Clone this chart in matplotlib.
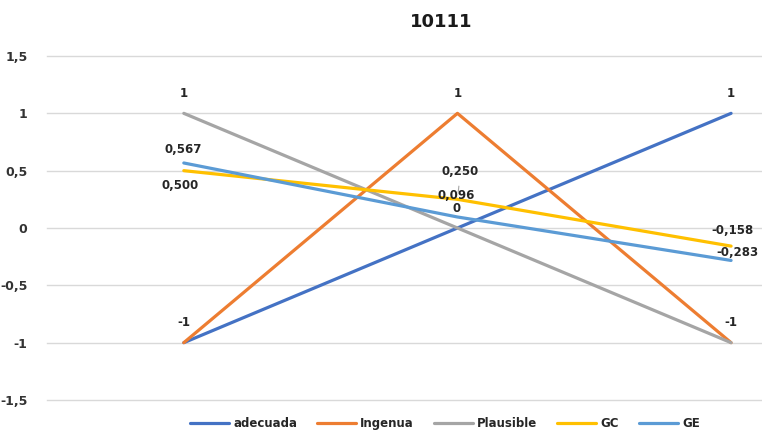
import matplotlib
matplotlib.use("Agg")
import matplotlib.pyplot as plt

plt.rcParams['font.family'] = ['DejaVu Sans']

title = "10111"
categories = ["1", "2", "3"]
series_names = ["adecuada", "Ingenua", "Plausible", "GC", "GE"]
adecuada = [-1, 0, 1]
ingenua = [-1, 1, -1]
plausible = [1, 0, -1]
gc = [0.500, 0.250, -0.158]
ge = [0.567, 0.096, -0.283]
y_ticks = [-1.5, -1, -0.5, 0, 0.5, 1, 1.5]

colors = ["#4472C4", "#ED7D31", "#A5A5A5", "#FFC000", "#5B9BD5"]
series = [adecuada, ingenua, plausible, gc, ge]
decimals = [0, 0, 0, 3, 3]


def fmt(v, d):
    s = f"{v:.{d}f}" if d else f"{v:g}"
    return s.replace(".", ",")


fig = plt.figure(figsize=(7.62, 4.36), dpi=100)
ax = fig.add_axes([47 / 762, 36 / 436, 1 - 47 / 762, 344 / 436])

x = list(range(len(categories)))
for name, vals, c in zip(series_names, series, colors):
    ax.plot(x, vals, color=c, lw=2.3, label=name, solid_capstyle="round")

ax.set_xlim(-0.5, 2.113)
ax.set_ylim(-1.5, 1.5)
ax.set_yticks(y_ticks)
ax.set_yticklabels([fmt(t, 1 if t % 1 else 0) for t in y_ticks],
                   fontsize=9, fontweight="bold", color="#333333")
ax.set_xticks([])
ax.tick_params(axis="y", length=0, pad=14)
ax.grid(axis="y", color="#D9D9D9", lw=1)
for gl in ax.get_ygridlines():
    gl.set_clip_on(False)
ax.set_axisbelow(True)
for s in ax.spines.values():
    s.set_visible(False)

# data labels: (series index, point index, dx, dy) in pixels
labels = [
    (2, 0, 0, 20), (4, 0, -1, 13), (3, 0, -4, -15), (1, 0, 0, 20),
    (1, 1, 0, 20), (4, 1, -1, 21), (2, 1, -1, 19),
    (0, 2, 0, 20), (3, 2, 1, 16), (4, 2, 6, 8), (2, 2, 0, 20),
]
for si, pi, dx, dy in labels:
    v = series[si][pi]
    ax.annotate(fmt(v, decimals[si]), (x[pi], v), xytext=(dx, dy),
                textcoords="offset pixels", ha="center", va="center",
                fontsize=8.5, fontweight="bold", color="#262626")

# label with leader line
v = gc[1]
ax.annotate(fmt(v, 3), (x[1], v), xytext=(3, 28), textcoords="offset pixels",
            ha="center", va="center", fontsize=8.5, fontweight="bold",
            color="#262626",
            arrowprops=dict(arrowstyle="-", color="#A6A6A6", lw=0.8,
                            shrinkA=4, shrinkB=5))

fig.text(441 / 762, 1 - 22 / 436, title, ha="center", va="center",
         fontsize=13, fontweight="bold", color="#1a1a1a")

fig.legend(loc="lower center", bbox_to_anchor=(445 / 762, -0.01), ncol=5,
           frameon=False, prop=dict(size=8.5, weight="bold"),
           handlelength=3.3, handletextpad=0.35, columnspacing=1.7,
           labelcolor="#262626")

fig.savefig("out.png", dpi=100)
